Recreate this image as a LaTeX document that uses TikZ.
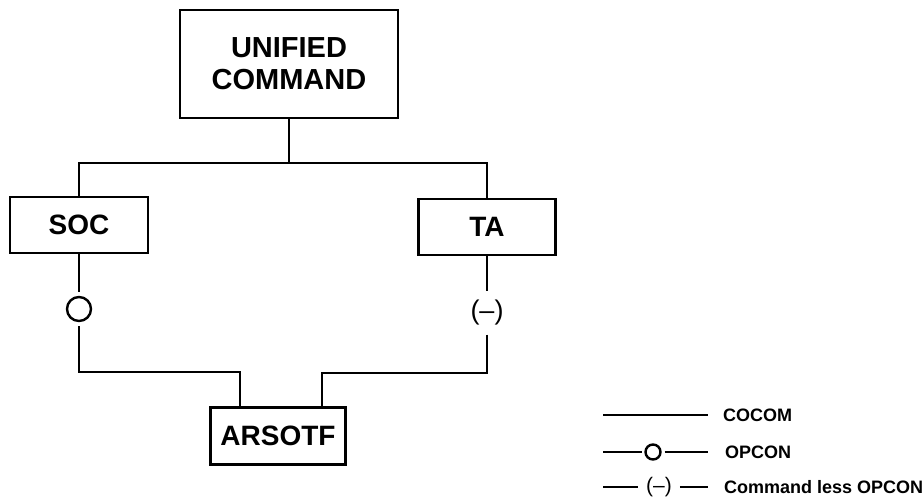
\documentclass[tikz,border=0pt]{standalone}
\usepackage{fontspec}
\setmainfont{Liberation Sans}
\usepackage{tikz}
\usetikzlibrary{positioning, calc}

\tikzset{
  cmdbox/.style={draw, line width=2.4pt, inner sep=0pt, align=center,
                 font=\fontsize{28}{32}\selectfont\bfseries},
  opcon/.style={draw, circle, line width=2.4pt, minimum size=24pt, inner sep=0pt, outer sep=5pt},
  lessop/.style={inner sep=0pt, outer sep=9pt, font=\fontsize{27}{27}\selectfont},
  keytext/.style={anchor=west, inner sep=0pt, font=\fontsize{18}{18}\selectfont\bfseries},
  link/.style={line width=2.4pt}
}

\begin{document}
\begin{tikzpicture}[x=1pt, y=-1pt]
\useasboundingbox (0,0) rectangle (922,496);

% Boxes
\node[cmdbox, minimum width=218pt, minimum height=108pt, font=\fontsize{29}{32}\selectfont\bfseries]
    (unified) at (289,64) {UNIFIED\\COMMAND};
\node[cmdbox, minimum width=138pt, minimum height=56pt] (soc) at (79,225) {SOC};
\node[cmdbox, minimum width=137pt, minimum height=56pt] (ta) at (487,227) {TA};
\node[cmdbox, minimum width=135pt, minimum height=57pt] (arsotf) at (278,436) {ARSOTF};

% COCOM bus
\coordinate (bus) at (289,163);
\draw[link] (unified.south) -- (bus);
\draw[link] (soc.north) |- (bus) -| (ta.north);

% OPCON and command less OPCON links
\node[opcon] (socop) at (79,309) {};
\node[lessop] (taop) at (487,313) {(\textendash)};
\path (arsotf.north) ++(-38,0) coordinate (ain) ++(82,0) coordinate (bin);
\draw[link] (soc.south) -- (socop);
\draw[link] (socop) -- ++(0,63) -| (ain);
\draw[link] (ta.south) -- (taop);
\draw[link] (taop) -- ++(0,60) -| (bin);

% Legend
\coordinate (k1a) at (603,415);
\coordinate (k1b) at (708,415);
\draw[link] (k1a) -- (k1b);
\node[keytext] (k1) at (723,415) {COCOM};

\coordinate (k2a) at (603,452);
\coordinate (k2b) at (708,452);
\node[opcon, minimum size=15pt, outer sep=4pt] (k2c) at (653,452) {};
\draw[link] (k2a) -- (k2c) -- (k2b);
\node[keytext] (k2) at (725,452) {OPCON};

\coordinate (k3a) at (603,487);
\coordinate (k3b) at (708,487);
\node[lessop, font=\fontsize{21}{21}\selectfont, outer sep=8pt] (k3c) at (659,487) {(\textendash)};
\draw[link] (k3a) -- (k3c) -- (k3b);
\node[keytext] (k3) at (724,487) {Command less OPCON};

\end{tikzpicture}
\end{document}
